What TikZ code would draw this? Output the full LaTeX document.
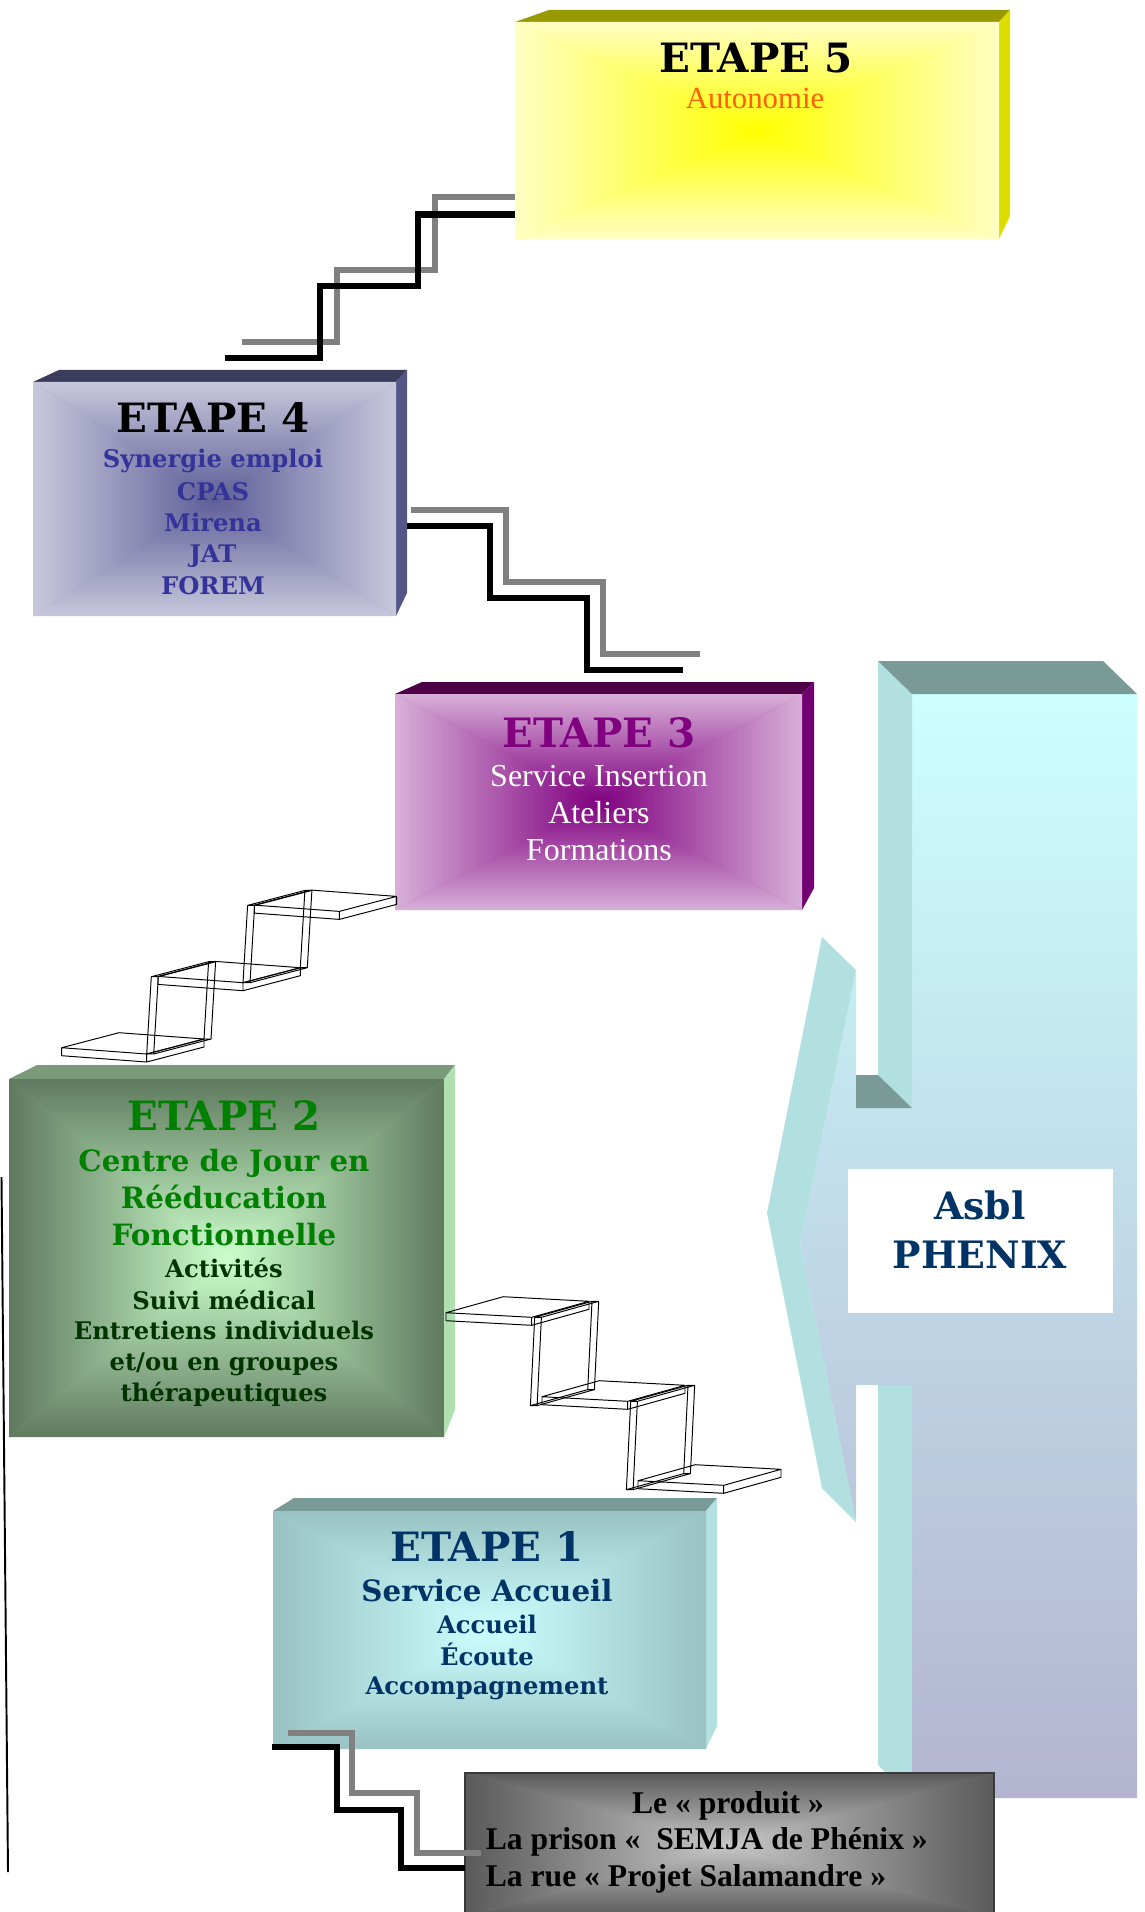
\documentclass[tikz,border=0pt]{standalone}
\usepackage{fontspec}
\setmainfont{Liberation Serif}
\newfontfamily\slabfont{DejaVu Serif}
\usetikzlibrary{calc}

\definecolor{e5top}{HTML}{999900}
\definecolor{e5side}{HTML}{DDDD00}
\definecolor{e5edge}{HTML}{FFFFC4}
\definecolor{e5mid}{HTML}{FFFF00}
\definecolor{e5sub}{HTML}{FF5F00}
\definecolor{e4top}{HTML}{3B3B5B}
\definecolor{e4side}{HTML}{555587}
\definecolor{e4edge}{HTML}{C8C8DC}
\definecolor{e4mid}{HTML}{5E5E98}
\definecolor{e4text}{HTML}{333399}
\definecolor{e3top}{HTML}{4D0046}
\definecolor{e3side}{HTML}{720072}
\definecolor{e3edge}{HTML}{D8B0D8}
\definecolor{e3mid}{HTML}{800080}
\definecolor{e2top}{HTML}{7A9A7A}
\definecolor{e2side}{HTML}{B0E0B0}
\definecolor{e2edge}{HTML}{5F7A5F}
\definecolor{e2mid}{HTML}{CCFFCC}
\definecolor{e2text}{HTML}{008000}
\definecolor{e2dark}{HTML}{003300}
\definecolor{e1top}{HTML}{7A9A98}
\definecolor{e1side}{HTML}{B2E0E0}
\definecolor{e1edge}{HTML}{99C2C2}
\definecolor{e1mid}{HTML}{CCFFFF}
\definecolor{navy}{HTML}{003366}
\definecolor{prodedge}{HTML}{5A5A5A}
\definecolor{prodmid}{HTML}{C8C8C8}
\definecolor{prodline}{HTML}{3A3A3A}
\definecolor{colbottom}{HTML}{B4B4D0}
\definecolor{stairgray}{HTML}{808080}

\newcommand\etapefont{\slabfont\bfseries\fontsize{23}{27}\selectfont}
\newcommand\slabline{\slabfont\bfseries\fontsize{13.8}{16}\selectfont}
\newcommand\slabbig{\slabfont\bfseries\fontsize{16.7}{19}\selectfont}
\newcommand\asblfont{\slabfont\bfseries\fontsize{21.5}{25}\selectfont}
\newcommand\romanline{\fontsize{18.2}{21}\selectfont}
\newcommand\autofont{\fontsize{17.5}{20}\selectfont}
\newcommand\prodfont{\bfseries\fontsize{18}{21}\selectfont}

% front face of a box, shaded from the edges to the centre
\newcommand\stepface[6]{%
  \fill[#5!50!#6] (#1,#2) rectangle (#3,#4);
  \shade[top color=#5, bottom color=#6] (#1,#2) -- (#3,#2) -- ({(#1+#3)/2},{(#2+#4)/2}) -- cycle;
  \shade[top color=#6, bottom color=#5] (#1,#4) -- (#3,#4) -- ({(#1+#3)/2},{(#2+#4)/2}) -- cycle;
  \shade[left color=#5, right color=#6] (#1,#2) -- (#1,#4) -- ({(#1+#3)/2},{(#2+#4)/2}) -- cycle;
  \shade[left color=#6, right color=#5] (#3,#2) -- (#3,#4) -- ({(#1+#3)/2},{(#2+#4)/2}) -- cycle;
}

\tikzset{
  stairblack/.style={line width=3.7pt, black},
  stairgrey/.style={line width=3.7pt, stairgray},
  wire/.style={line width=0.55pt, black, line join=round},
  lbl/.style={anchor=base, inner sep=0pt}
}

\begin{document}
\begin{tikzpicture}[x=0.02cm, y=-0.02cm]
\useasboundingbox (0,0) rectangle (1144,1912);

% Asbl PHENIX column and arrow
\shade[top color=e1mid, bottom color=colbottom]
  (912,694) -- (1137,694) -- (1137,1798) -- (912,1798) -- (912,1385) -- (856,1385)
  -- (856,1522) -- (800,1245) -- (856,970) -- (856,1108) -- (912,1108) -- cycle;
\fill[e1side] (878,661) -- (912,694) -- (912,1108) -- (878,1075) -- cycle;
\fill[e1side] (878,1385) -- (912,1385) -- (912,1798) -- (878,1765) -- cycle;
\fill[e1side] (822,937) -- (856,970) -- (800,1245) -- (856,1522) -- (822,1488) -- (767,1213) -- cycle;
\fill[e1top] (878,661) -- (1103,661) -- (1137,694) -- (912,694) -- cycle;
\fill[e1top] (856,1075) -- (878,1075) -- (912,1108) -- (856,1108) -- cycle;
\fill[white] (848,1169) rectangle (1113,1313);
\node[lbl, font=\asblfont, text=navy] (asbl) at (980,1219) {Asbl};
\node[lbl, font=\asblfont, text=navy] (phenix) at (980,1268) {PHENIX};

% Etape 5
\fill[e5top] (515,22) -- (549,10) -- (1010,10) -- (999,22) -- cycle;
\fill[e5side] (999,22) -- (1010,10) -- (1010,216) -- (999,239) -- cycle;
\stepface{515}{22}{999}{239}{e5edge}{e5mid}
\node[lbl, font=\etapefont] (e5) at (756,72.3) {ETAPE 5};
\node[lbl, font=\autofont, text=e5sub] (e5-1) at (755,109) {Autonomie};

% Etape 4
\fill[e4top] (33,382) -- (59,370) -- (407,370) -- (396,382) -- cycle;
\fill[e4side] (396,382) -- (407,370) -- (407,593) -- (396,616) -- cycle;
\stepface{33}{382}{396}{616}{e4edge}{e4mid}
\node[lbl, font=\etapefont] (e4) at (213,432.6) {ETAPE 4};
\foreach \txt/\yy [count=\k] in {Synergie emploi/467.4, CPAS/500.4, Mirena/531.6, JAT/562.5, FOREM/594}
  \node[lbl, font=\slabline, text=e4text] (e4-\k) at (213,\yy) {\txt};

% Etape 3
\fill[e3top] (395,694) -- (422,682) -- (814,682) -- (802,694) -- cycle;
\fill[e3side] (802,694) -- (814,682) -- (814,888) -- (802,910) -- cycle;
\stepface{395}{694}{802}{910}{e3edge}{e3mid}
\node[lbl, font=\etapefont, text=e3mid] (e3) at (599,747) {ETAPE 3};
\foreach \txt/\yy [count=\k] in {Service Insertion/786.7, Ateliers/823.4, Formations/860}
  \node[lbl, font=\romanline, text=white] (e3-\k) at (599,\yy) {\txt};

% Etape 2
\fill[e2top] (9,1079) -- (37,1065) -- (455,1065) -- (444,1079) -- cycle;
\fill[e2side] (444,1079) -- (455,1065) -- (455,1410) -- (444,1437) -- cycle;
\stepface{9}{1079}{444}{1437}{e2edge}{e2mid}
\node[lbl, font=\etapefont, text=e2text] (e2) at (224,1130) {ETAPE 2};
\foreach \txt/\yy [count=\k] in {Centre de Jour en/1171, Rééducation/1208, Fonctionnelle/1245.7}
  \node[lbl, font=\slabbig, text=e2text] (e2-\k) at (224,\yy) {\txt};
\foreach \txt/\yy [count=\k] in {Activités/1277.5, Suivi médical/1309, Entretiens individuels/1339.5, {et/ou en groupes}/1370.6, thérapeutiques/1401}
  \node[lbl, font=\slabline, text=e2dark] (e2-d\k) at (224,\yy) {\txt};

% Etape 1
\fill[e1top] (273,1511) -- (294,1498) -- (717,1498) -- (706,1511) -- cycle;
\fill[e1side] (706,1511) -- (717,1498) -- (717,1726) -- (706,1749) -- cycle;
\stepface{273}{1511}{706}{1749}{e1edge}{e1mid}
\node[lbl, font=\etapefont, text=navy] (e1) at (487,1561.6) {ETAPE 1};
\node[lbl, font=\slabbig, text=navy] (e1-1) at (487,1601.5) {Service Accueil};
\foreach \txt/\yy [count=\k] in {Accueil/1633, Écoute/1665, Accompagnement/1694.8}
  \node[lbl, font=\slabline, text=navy] (e1-l\k) at (487,\yy) {\txt};

% Le produit
\stepface{465}{1773}{994}{1916}{prodedge}{prodmid}
\draw[prodline, line width=1.2pt] (465,1916) -- (465,1773) -- (994,1773) -- (994,1916);
\node[lbl, font=\prodfont] (prod1) at (728,1813) {Le « produit »};
\node[lbl, anchor=base west, font=\prodfont] (prod2) at (485.5,1849.6) {La prison «~~SEMJA de Phénix »};
\node[lbl, anchor=base west, font=\prodfont] (prod3) at (485.5,1886.3) {La rue « Projet Salamandre »};

% double stairs
\draw[stairgrey] (242,342) -- (337,342) -- (337,270) -- (435,270) -- (435,197) -- (515,197);
\draw[stairblack] (225,358) -- (320,358) -- (320,286) -- (418,286) -- (418,214.5) -- (515,214.5);
\draw[stairgrey] (411,510) -- (506,510) -- (506,582) -- (603,582) -- (603,654) -- (700,654);
\draw[stairblack] (407,526) -- (490,526) -- (490,598) -- (587,598) -- (587,670) -- (683,670);
\draw[stairgrey] (288,1733) -- (352,1733) -- (352,1793) -- (417,1793) -- (417,1853) -- (481,1853);
\draw[stairblack] (272,1747) -- (337,1747) -- (337,1810) -- (401,1810) -- (401,1868) -- (465,1868);

% wire stairs from Etape 2 up to Etape 3
\foreach \i in {0,1,2}
  \draw[wire, shift={({61.7+96.3*\i},{1047.7-71.3*\i})}]
    (0,0) -- (85,6.3) -- (142.3,-8.7) -- (57.3,-15) -- cycle
    (0,0) -- (0,8) -- (85,14.3) -- (142.3,-0.7) -- (142.3,-8.7)
    (85,6.3) -- (85,14.3);
\foreach \i in {0,1}
  \draw[wire, shift={({146.7+96.3*\i},{1054-71.3*\i})}]
    (0,0) -- (7,0) -- (11.6,-77.3) -- (4.6,-77.3) -- cycle
    (57.3,-15) -- (64.3,-15) -- (68.9,-92.3) -- (61.9,-92.3) -- cycle
    (0,0) -- (57.3,-15) (7,0) -- (64.3,-15)
    (11.6,-77.3) -- (68.9,-92.3) (4.6,-77.3) -- (61.9,-92.3);

% wire stairs from Etape 2 down to Etape 1
\foreach \i in {0,1,2}
  \draw[wire, shift={({446+96*\i},{1312.7+84*\i})}]
    (0,0) -- (85.7,4.6) -- (143,-11.4) -- (57.3,-16) -- cycle
    (0,0) -- (0,8) -- (85.7,12.6) -- (143,-3.4) -- (143,-11.4)
    (85.7,4.6) -- (85.7,12.6);
\foreach \i in {0,1}
  \draw[wire, shift={({534.7+96*\i},{1317.3+84*\i})}]
    (0,0) -- (6.7,0) -- (2.4,88.3) -- (-4.3,88.3) -- cycle
    (57.3,-16) -- (64,-16) -- (59.7,72.3) -- (53,72.3) -- cycle
    (0,0) -- (57.3,-16) (6.7,0) -- (64,-16)
    (2.4,88.3) -- (59.7,72.3) (-4.3,88.3) -- (53,72.3);

% thin line on the left
\draw[line width=1.1pt] (1.5,1177) -- (8,1872);
\end{tikzpicture}
\end{document}
